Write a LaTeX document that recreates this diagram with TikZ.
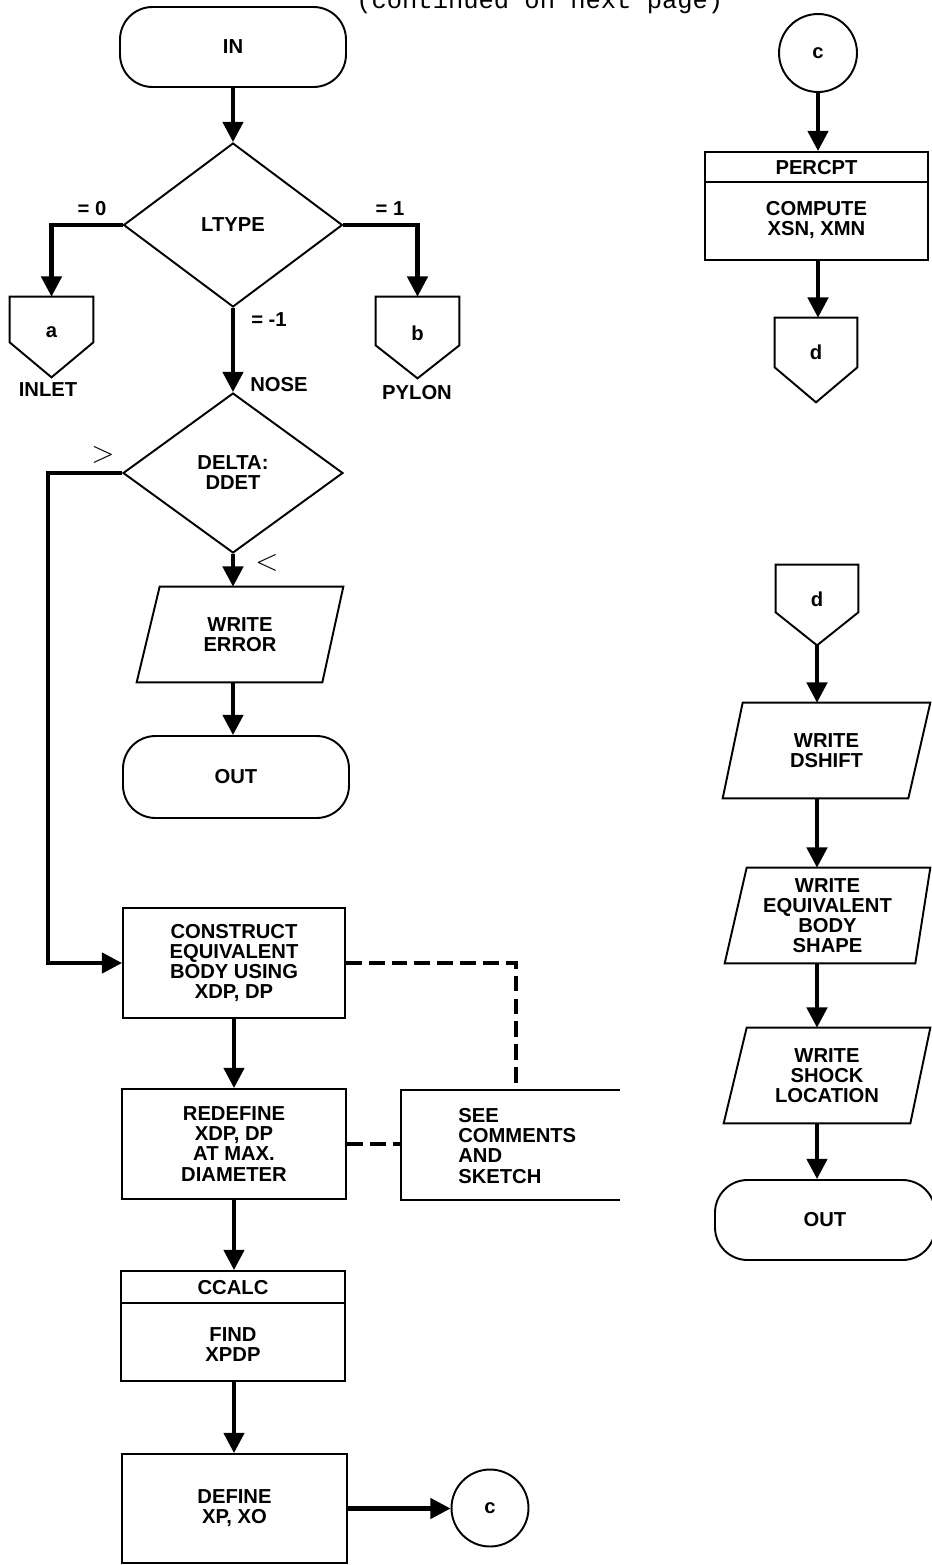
\documentclass[tikz,border=0pt]{standalone}
\usepackage{fontspec}
\setmainfont{Liberation Sans}
\newfontfamily\monocont{Liberation Mono}
\usetikzlibrary{shapes.geometric,arrows.meta}
\begin{document}
\begin{tikzpicture}[x=0.02cm, y=-0.02cm,
  every node/.style={font=\fontsize{11.5}{11.4}\selectfont\bfseries, align=center, inner sep=0pt},
  shp/.style={draw, line width=1.1pt},
  box/.style={shp, rectangle},
  term/.style={shp, rectangle, rounded corners=0.65cm},
  dia/.style={shp, diamond},
  conn/.style={shp, circle},
  arr/.style={line width=2.3pt, -{Triangle[length=11.5pt,width=11.5pt]}},
  dsh/.style={line width=2.3pt, dash pattern=on 9pt off 4pt}
]
\useasboundingbox (0,0) rectangle (931,1565);

% header text
\node[anchor=base west, font=\monocont\fontsize{14.5}{14.5}\selectfont] (cont) at (356,9) {(continued on next page)};

% ---------- left column ----------
\node[term, minimum width=4.52cm, minimum height=1.6cm] (in) at (233,47) {IN};
\node[dia, minimum width=4.38cm, minimum height=3.28cm] (ltype) at (233,225) {LTYPE};

\node[minimum width=1.66cm, minimum height=1.6cm, label={[yshift=0.1cm]center:a}] (a) at (51.5,337) {};
\draw[shp] (a.north west) -- (a.north east) -- ([yshift=0.7cm]a.south east) -- (a.south) -- ([yshift=0.7cm]a.south west) -- cycle;
\node[minimum width=1.66cm, minimum height=1.62cm, label={[yshift=0.09cm]center:b}] (b) at (417.5,337.5) {};
\draw[shp] (b.north west) -- (b.north east) -- ([yshift=0.66cm]b.south east) -- (b.south) -- ([yshift=0.66cm]b.south west) -- cycle;

\node (l0) at (92,209) {= 0};
\node (l1) at (390,209) {= 1};
\node (lm1) at (269,320) {= -1};
\node (inlet) at (48,390) {INLET};
\node (pylon) at (417,393) {PYLON};
\node (nose) at (279,385) {NOSE};

\node[dia, minimum width=4.4cm, minimum height=3.2cm] (delta) at (233,473) {DELTA:\\DDET};
\node[font=\fontsize{18}{18}\selectfont] (gt) at (103,455) {$>$};
\node[font=\fontsize{18}{18}\selectfont] (lt) at (267,563) {$<$};

\node[minimum width=4.12cm, minimum height=1.9cm] (werr) at (240,634.5) {WRITE\\ERROR};
\draw[shp] ([xshift=0.46cm]werr.north west) -- (werr.north east) -- ([xshift=-0.42cm]werr.south east) -- (werr.south west) -- cycle;

\node[term, minimum width=4.52cm, minimum height=1.64cm] (out1) at (236,777) {OUT};

\node[box, minimum width=4.44cm, minimum height=2.2cm] (construct) at (234,963) {CONSTRUCT\\EQUIVALENT\\BODY USING\\XDP, DP};
\node[box, minimum width=4.48cm, minimum height=2.2cm] (redefine) at (234,1144) {REDEFINE\\XDP, DP\\AT MAX.\\DIAMETER};

\node[minimum width=4.38cm, minimum height=2.2cm] (see) at (510.5,1145) {};
\draw[shp] (see.north east) -- (see.north west) -- (see.south west) -- (see.south east);
\node[anchor=west, align=left] (seetxt) at (458,1146) {SEE\\COMMENTS\\AND\\SKETCH};

\node[box, minimum width=4.48cm, minimum height=2.2cm] (ccalc) at (233,1326) {};
\draw[shp] ([yshift=-0.66cm]ccalc.north west) -- ([yshift=-0.66cm]ccalc.north east);
\node (ccalch) at (233,1288) {CCALC};
\node (ccalcb) at (233,1345) {FIND\\XPDP};

\node[box, minimum width=4.5cm, minimum height=2.18cm] (define) at (234.5,1508.5) {DEFINE\\XP, XO};
\node[conn, minimum size=1.54cm] (c2) at (490,1508) {c};

% ---------- right column ----------
\node[conn, minimum size=1.56cm] (c1) at (818,53) {c};
\node[box, minimum width=4.46cm, minimum height=2.16cm] (percpt) at (816.5,206) {};
\draw[shp] ([yshift=-0.62cm]percpt.north west) -- ([yshift=-0.62cm]percpt.north east);
\node (percpth) at (816.5,168) {PERCPT};
\node (percptb) at (816.5,220) {COMPUTE\\XSN, XMN};

\node[minimum width=1.64cm, minimum height=1.68cm, label={[yshift=0.16cm]center:d}] (d1) at (816,360) {};
\draw[shp] (d1.north west) -- (d1.north east) -- ([yshift=0.7cm]d1.south east) -- (d1.south) -- ([yshift=0.7cm]d1.south west) -- cycle;

\node[minimum width=1.64cm, minimum height=1.6cm, label={[yshift=0.12cm]center:d}] (d2) at (817,605) {};
\draw[shp] (d2.north west) -- (d2.north east) -- ([yshift=0.66cm]d2.south east) -- (d2.south) -- ([yshift=0.66cm]d2.south west) -- cycle;

\node[minimum width=4.14cm, minimum height=1.9cm] (wdshift) at (826.5,750.5) {WRITE\\DSHIFT};
\draw[shp] ([xshift=0.4cm]wdshift.north west) -- (wdshift.north east) -- ([xshift=-0.44cm]wdshift.south east) -- (wdshift.south west) -- cycle;

\node[minimum width=4.1cm, minimum height=1.9cm] (wequiv) at (827.5,915.5) {WRITE\\EQUIVALENT\\BODY\\SHAPE};
\draw[shp] ([xshift=0.44cm]wequiv.north west) -- (wequiv.north east) -- ([xshift=-0.3cm]wequiv.south east) -- (wequiv.south west) -- cycle;

\node[minimum width=4.12cm, minimum height=1.9cm] (wshock) at (827,1075.5) {WRITE\\SHOCK\\LOCATION};
\draw[shp] ([xshift=0.46cm]wshock.north west) -- (wshock.north east) -- ([xshift=-0.4cm]wshock.south east) -- (wshock.south west) -- cycle;

\node[term, minimum width=4.4cm, minimum height=1.6cm] (out2) at (825,1220) {OUT};

% ---------- connectors ----------
\draw[arr] (in.south) -- (ltype.north);
\draw[arr] (ltype.west) -| (a.north);
\draw[arr] (ltype.east) -| (b.north);
\draw[arr] (ltype.south) -- (delta.north);
\draw[arr] (delta.south) -- (delta.south |- werr.north);
\draw[arr] (delta.south |- werr.south) -- (delta.south |- out1.north);
\draw[arr] (delta.west) -- ++(-74,0) |- (construct.west);
\draw[arr] (construct.south) -- (construct.south |- redefine.north);
\draw[arr] (redefine.south) -- (redefine.south |- ccalc.north);
\draw[arr] (redefine.south |- ccalc.south) -- (redefine.south |- define.north);
\draw[arr] (define.east) -- (define.east -| c2.west);
\draw[dsh] (construct.east) -| ([xshift=0.11cm]see.north);
\draw[dsh] (redefine.east) -- (redefine.east -| see.west);

\draw[arr] (c1.south) -- (c1.south |- percpt.north);
\draw[arr] (c1.south |- percpt.south) -- (c1.south |- d1.north);
\draw[arr] (d2.south) -- (d2.south |- wdshift.north);
\draw[arr] (d2.south |- wdshift.south) -- (d2.south |- wequiv.north);
\draw[arr] (d2.south |- wequiv.south) -- (d2.south |- wshock.north);
\draw[arr] (d2.south |- wshock.south) -- (d2.south |- out2.north);
\end{tikzpicture}
\end{document}
